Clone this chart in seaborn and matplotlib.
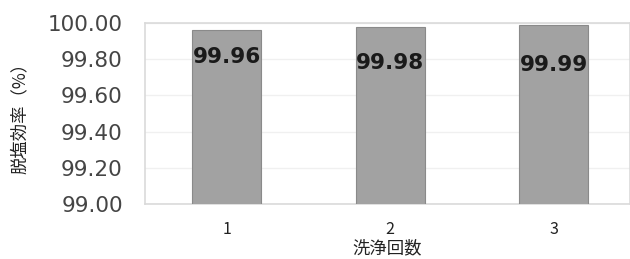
import pandas as pd
import seaborn as sns
import matplotlib.pyplot as plt

wash_counts = ['1', '2', '3']
efficiency = [99.96, 99.98, 99.99]
value_labels = ['99.96', '99.98', '99.99']

df = pd.DataFrame({'count': wash_counts, 'eff': efficiency})

sns.set_style('white')
plt.rcParams['font.family'] = ['Noto Sans CJK JP', 'DejaVu Sans']

fig = plt.figure(figsize=(6.3, 2.59), dpi=100)
ax = fig.add_axes([145 / 630, 1 - 204 / 259, 485 / 630, 181 / 259])

sns.barplot(data=df, x='count', y='eff', color='#a2a2a2', width=0.42,
            edgecolor='#8a8a8a', linewidth=0.8, saturation=1, ax=ax, zorder=3)

ax.set_ylim(99.0, 100.0)
ax.set_xlim(-0.5, -0.5 + 485 / 163.5)
ax.set_yticks([99.0, 99.2, 99.4, 99.6, 99.8, 100.0])
ax.set_yticklabels([f'{v:.2f}' for v in ax.get_yticks()],
                   fontsize=15.5, color='#454545', family='DejaVu Sans')
ax.set_xticks(range(len(wash_counts)))
ax.set_xticklabels(wash_counts, fontsize=11.5, color='#222222')
ax.tick_params(axis='y', length=0, pad=16)
ax.tick_params(axis='x', length=0, pad=12)
ax.grid(axis='y', color='#f0f0f0', linewidth=1, zorder=0)
for s in ax.spines.values():
    s.set_color('#dadada')
    s.set_linewidth(1.2)

# labels sit a little lower on the taller bars, as in the original
label_drop = [0.15, 0.20, 0.22]
for i, (v, lab) in enumerate(zip(efficiency, value_labels)):
    ax.text(i, v - label_drop[i], lab, ha='center', va='center', fontsize=15.5,
            fontweight='bold', color='#1a1a1a', family='DejaVu Sans', zorder=4)

ax.set_xlabel('洗浄回数', fontsize=12.5, color='#222222', labelpad=1)
ax.set_ylabel('脱塩効率（%）', fontsize=12.5, color='#222222', labelpad=14)

fig.savefig('out.png', dpi=100)
